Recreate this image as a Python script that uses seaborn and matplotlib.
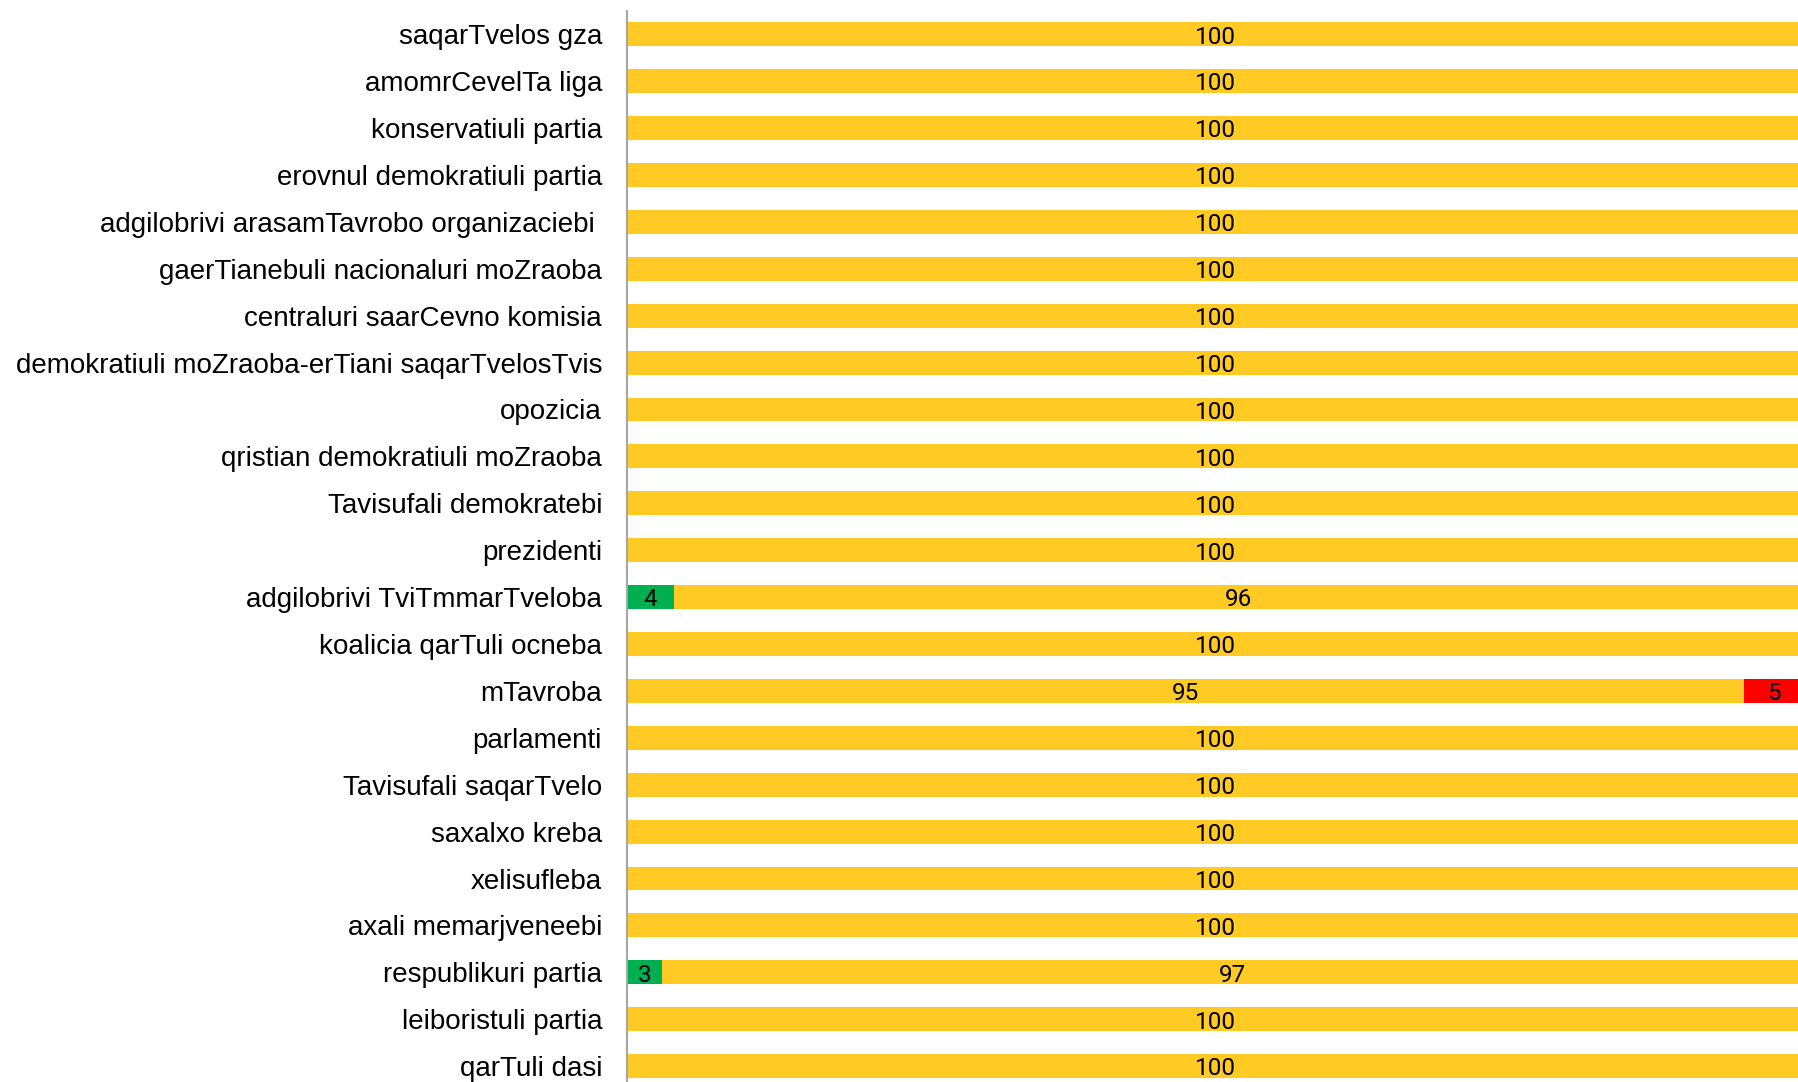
import numpy as np
import pandas as pd
import seaborn as sns
import matplotlib.pyplot as plt

# categories top to bottom and the three stacked shares (percent)
parties = [
    "saqarTvelos gza",
    "amomrCevelTa liga",
    "konservatiuli partia",
    "erovnul demokratiuli partia",
    "adgilobrivi arasamTavrobo organizaciebi ",
    "gaerTianebuli nacionaluri moZraoba",
    "centraluri saarCevno komisia",
    "demokratiuli moZraoba-erTiani saqarTvelosTvis",
    "opozicia",
    "qristian demokratiuli moZraoba",
    "Tavisufali demokratebi",
    "prezidenti",
    "adgilobrivi TviTmmarTveloba",
    "koalicia qarTuli ocneba",
    "mTavroba",
    "parlamenti",
    "Tavisufali saqarTvelo",
    "saxalxo kreba",
    "xelisufleba",
    "axali memarjveneebi",
    "respublikuri partia",
    "leiboristuli partia",
    "qarTuli dasi",
]
green = [0, 0, 0, 0, 0, 0, 0, 0, 0, 0, 0, 0, 4, 0, 0, 0, 0, 0, 0, 0, 3, 0, 0]
yellow = [100, 100, 100, 100, 100, 100, 100, 100, 100, 100, 100, 100, 96, 100, 95, 100, 100, 100, 100, 100, 97, 100, 100]
red = [0, 0, 0, 0, 0, 0, 0, 0, 0, 0, 0, 0, 0, 0, 5, 0, 0, 0, 0, 0, 0, 0, 0]

df = pd.DataFrame({"party": parties, "green": green, "yellow": yellow, "red": red})
df["gy"] = df["green"] + df["yellow"]
df["total"] = df["gy"] + df["red"]

fig = plt.figure(figsize=(17.98, 10.82), dpi=100)
ax = fig.add_axes([627 / 1798, -0.007, 1176 / 1798, 0.997])

# stacked bars drawn as overlaid cumulative totals
sns.barplot(data=df, x="total", y="party", orient="h", color="#FF0000", width=0.51, saturation=1, ax=ax)
sns.barplot(data=df, x="gy", y="party", orient="h", color="#FFCA24", width=0.51, saturation=1, ax=ax)
sns.barplot(data=df, x="green", y="party", orient="h", color="#00B050", width=0.51, saturation=1, ax=ax)

# segment labels
for i, row in df.iterrows():
    left = 0
    for col in ["green", "yellow", "red"]:
        v = row[col]
        if v > 0:
            ax.text(left + v / 2, i + 0.06, str(v), ha="center", va="center",
                    fontsize=17.5, family="Roboto", color="black")
        left += v

ax.set_xlim(0, 100)
ax.set_ylim(len(parties) - 0.5, -0.5)
ax.set_xlabel("")
ax.set_ylabel("")
ax.set_xticks([])
ax.tick_params(axis="y", length=0, pad=18)
for lbl in ax.get_yticklabels():
    lbl.set_fontfamily("Liberation Sans")
    lbl.set_fontsize(20)
for s in ["top", "right", "bottom"]:
    ax.spines[s].set_visible(False)
ax.spines["left"].set_color("#A6A6A6")
ax.spines["left"].set_linewidth(1.5)

fig.savefig("out.png", dpi=100)
